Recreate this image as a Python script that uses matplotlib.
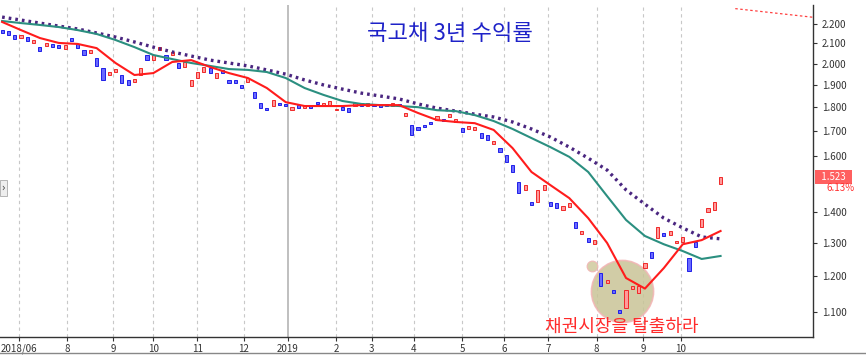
import numpy as np
import matplotlib.pyplot as plt
from matplotlib.patches import Rectangle
from matplotlib.lines import Line2D
from matplotlib.transforms import blended_transform_factory

plt.rcParams['font.family'] = ['Noto Sans CJK KR', 'DejaVu Sans']

# one candle every 3 trading days (yield, %)
opens = [2.166, 2.161, 2.142, 2.127, 2.132, 2.102, 2.081, 2.086, 2.097, 2.092,
         2.072, 2.127, 2.097, 2.067, 2.052, 2.027, 1.980, 1.948, 1.960, 1.948,
         1.923, 1.913, 1.948, 2.043, 2.019, 2.067, 2.043, 2.043, 2.004, 1.985,
         1.895, 1.932, 1.960, 1.980, 1.932, 1.970, 1.923, 1.923, 1.900, 1.913,
         1.868, 1.818, 1.797, 1.806, 1.818, 1.814, 1.788, 1.810, 1.797, 1.810,
         1.822, 1.806, 1.810, 1.788, 1.802, 1.797, 1.806, 1.818, 1.806, 1.814,
         1.814, 1.814, 1.806, 1.814, 1.765, 1.725, 1.717, 1.725, 1.738, 1.746,
         1.750, 1.759, 1.738, 1.713, 1.709, 1.705, 1.692, 1.684, 1.648, 1.632,
         1.605, 1.567, 1.504, 1.476, 1.433, 1.433, 1.476, 1.433, 1.430, 1.406,
         1.416, 1.365, 1.327, 1.314, 1.295, 1.209, 1.180, 1.160, 1.105, 1.111,
         1.163, 1.152, 1.223, 1.270, 1.314, 1.330, 1.324, 1.298, 1.301, 1.253,
         1.301, 1.349, 1.398, 1.406, 1.497]
closes = [2.152, 2.142, 2.122, 2.142, 2.112, 2.117, 2.062, 2.102, 2.081, 2.076,
          2.092, 2.112, 2.076, 2.043, 2.067, 1.990, 1.923, 1.960, 1.975, 1.909,
          1.900, 1.927, 1.980, 2.019, 2.043, 2.081, 2.019, 2.057, 1.980, 2.009,
          1.925, 1.960, 1.985, 1.955, 1.955, 1.955, 1.909, 1.909, 1.886, 1.932,
          1.841, 1.797, 1.788, 1.832, 1.810, 1.806, 1.800, 1.797, 1.810, 1.797,
          1.814, 1.818, 1.827, 1.793, 1.788, 1.780, 1.818, 1.806, 1.818, 1.806,
          1.802, 1.806, 1.818, 1.806, 1.776, 1.684, 1.705, 1.717, 1.729, 1.763,
          1.742, 1.771, 1.750, 1.696, 1.721, 1.717, 1.672, 1.664, 1.660, 1.617,
          1.578, 1.540, 1.464, 1.493, 1.423, 1.476, 1.493, 1.419, 1.412, 1.419,
          1.430, 1.346, 1.337, 1.301, 1.308, 1.170, 1.188, 1.152, 1.097, 1.160,
          1.171, 1.171, 1.238, 1.252, 1.349, 1.320, 1.336, 1.304, 1.317, 1.214,
          1.285, 1.375, 1.412, 1.433, 1.523]
change_pct = 6.13

# moving averages, read every 9 trading days
ma_short = [2.211, 2.168, 2.127, 2.102, 2.097, 2.076, 2.003, 1.946, 1.955, 2.008,
            2.017, 1.984, 1.955, 1.932, 1.886, 1.823, 1.806, 1.806, 1.806, 1.810,
            1.810, 1.810, 1.776, 1.746, 1.738, 1.733, 1.705, 1.632, 1.541, 1.493,
            1.447, 1.379, 1.299, 1.194, 1.164, 1.223, 1.295, 1.308, 1.337]
ma_mid = [2.216, 2.205, 2.195, 2.184, 2.168, 2.148, 2.117, 2.081, 2.042, 2.022,
          2.003, 1.989, 1.974, 1.970, 1.960, 1.932, 1.886, 1.855, 1.828, 1.815,
          1.810, 1.806, 1.801, 1.788, 1.784, 1.767, 1.742, 1.709, 1.672, 1.636,
          1.598, 1.541, 1.454, 1.373, 1.321, 1.295, 1.274, 1.250, 1.259]
ma_long = [2.237, 2.221, 2.205, 2.189, 2.174, 2.153, 2.132, 2.107, 2.081, 2.057,
           2.037, 2.017, 2.003, 1.989, 1.970, 1.950, 1.923, 1.900, 1.881, 1.863,
           1.850, 1.837, 1.815, 1.797, 1.784, 1.771, 1.759, 1.738, 1.709, 1.676,
           1.636, 1.593, 1.548, 1.476, 1.426, 1.379, 1.347, 1.318, 1.312]

month_days = [8, 31, 53, 72, 93, 115, 136, 159, 176, 196, 219, 239, 260, 283, 305, 323]
month_labels = ['2018/06', '8', '9', '10', '11', '12', '2019', '2', '3', '4',
                '5', '6', '7', '8', '9', '10']
ytick_vals = [1.1, 1.2, 1.3, 1.4, 1.6, 1.7, 1.8, 1.9, 2.0, 2.1, 2.2]

days = np.arange(len(closes)) * 3
ma_days = np.arange(len(ma_short)) * 9
opens = np.array(opens)
closes = np.array(closes)

fig = plt.figure(figsize=(8.66, 3.56), dpi=100)
ax = fig.add_axes([0, 1 - 337 / 356, 813 / 866, 332 / 356])

# month grid
for d, lab in zip(month_days, month_labels):
    if lab == '2019':
        ax.axvline(d, color='#b4b4b4', lw=1.2, zorder=0)
    else:
        ax.axvline(d, color='#c8c8c8', lw=0.8, ls=(0, (3, 3)), zorder=0)

up = closes >= opens
ax.bar(days[up], closes[up] - opens[up], bottom=opens[up], width=1.5,
       color='#ff9a9a', edgecolor='#f02828', linewidth=0.7, zorder=2)
ax.bar(days[~up], closes[~up] - opens[~up], bottom=opens[~up], width=1.5,
       color='#6a6aff', edgecolor='#1f1fe8', linewidth=0.7, zorder=2)

ax.plot(ma_days, ma_long, color='#4a2680', lw=2.4, ls=(0, (0.8, 1.2)), zorder=3)
ax.plot(ma_days, ma_mid, color='#2b8f80', lw=1.5, zorder=3)
ax.plot(ma_days, ma_short, color='#ff1c1c', lw=1.5, zorder=4)

# highlight around the low
ax.scatter([295], [1.157], s=2000, color='#c9c497', alpha=0.85,
           edgecolor='#f2b4b4', linewidth=1.2, zorder=1)
ax.scatter([281], [1.229], s=60, color='#d2cca2', alpha=0.9,
           edgecolor='#f2b4b4', linewidth=0.8, zorder=1)

# faint trend line at top right
ax.plot([349, 386], [2.283, 2.236], color='#ff4040', lw=0.9, ls=(0, (2, 2)))

ax.set_yscale('log')
ax.set_ylim(1.036, 2.303)
ax.set_xlim(-1, 386)
ax.yaxis.tick_right()
ax.set_yticks(ytick_vals)
ax.set_yticklabels(['%.3f' % v for v in ytick_vals])
ax.yaxis.set_minor_locator(plt.NullLocator())
ax.set_xticks(month_days)
ax.set_xticklabels(month_labels)
ax.tick_params(axis='both', labelsize=7, colors='#333333', length=3, width=0.8)
ax.tick_params(axis='x', pad=2)

for s in ['left', 'top']:
    ax.spines[s].set_visible(False)
for s in ['right', 'bottom']:
    ax.spines[s].set_color('#333333')
    ax.spines[s].set_linewidth(1.0)

ax.text(0.553, 0.915, '국고채 3년 수익률', transform=ax.transAxes,
        color='#1e22c8', fontsize=16, ha='center', va='center')
ax.text(0.765, 0.03, '채권시장을 탈출하라', transform=ax.transAxes,
        color='#ff2a2a', fontsize=13, ha='center', va='center')

# last price marker on the right axis
tr = blended_transform_factory(ax.transAxes, ax.transData)
ax.text(1.005, closes[-1], '  %.3f  ' % closes[-1], transform=tr, color='white',
        fontsize=7, va='center', ha='left', clip_on=False,
        bbox=dict(boxstyle='square,pad=0.2', fc='#ff5f5f', ec='none'))
ax.text(1.017, closes[-1] * 0.973, '%.2f%%' % change_pct, transform=tr,
        color='#ff3030', fontsize=7, va='center', ha='left', clip_on=False)

# small scroll button and bottom bar
fig.patches.append(Rectangle((0, 1 - 196 / 356), 7 / 866, 16 / 356,
                             transform=fig.transFigure, fc='#eeeeee', ec='#aaaaaa', lw=0.6))
fig.text(3.5 / 866, 1 - 188 / 356, '›', fontsize=8, ha='center', va='center', color='#333333')
fig.lines.append(Line2D([0, 1], [1 - 353 / 356] * 2, transform=fig.transFigure,
                        color='#888888', lw=1.0))

fig.savefig('out.png', dpi=100)
